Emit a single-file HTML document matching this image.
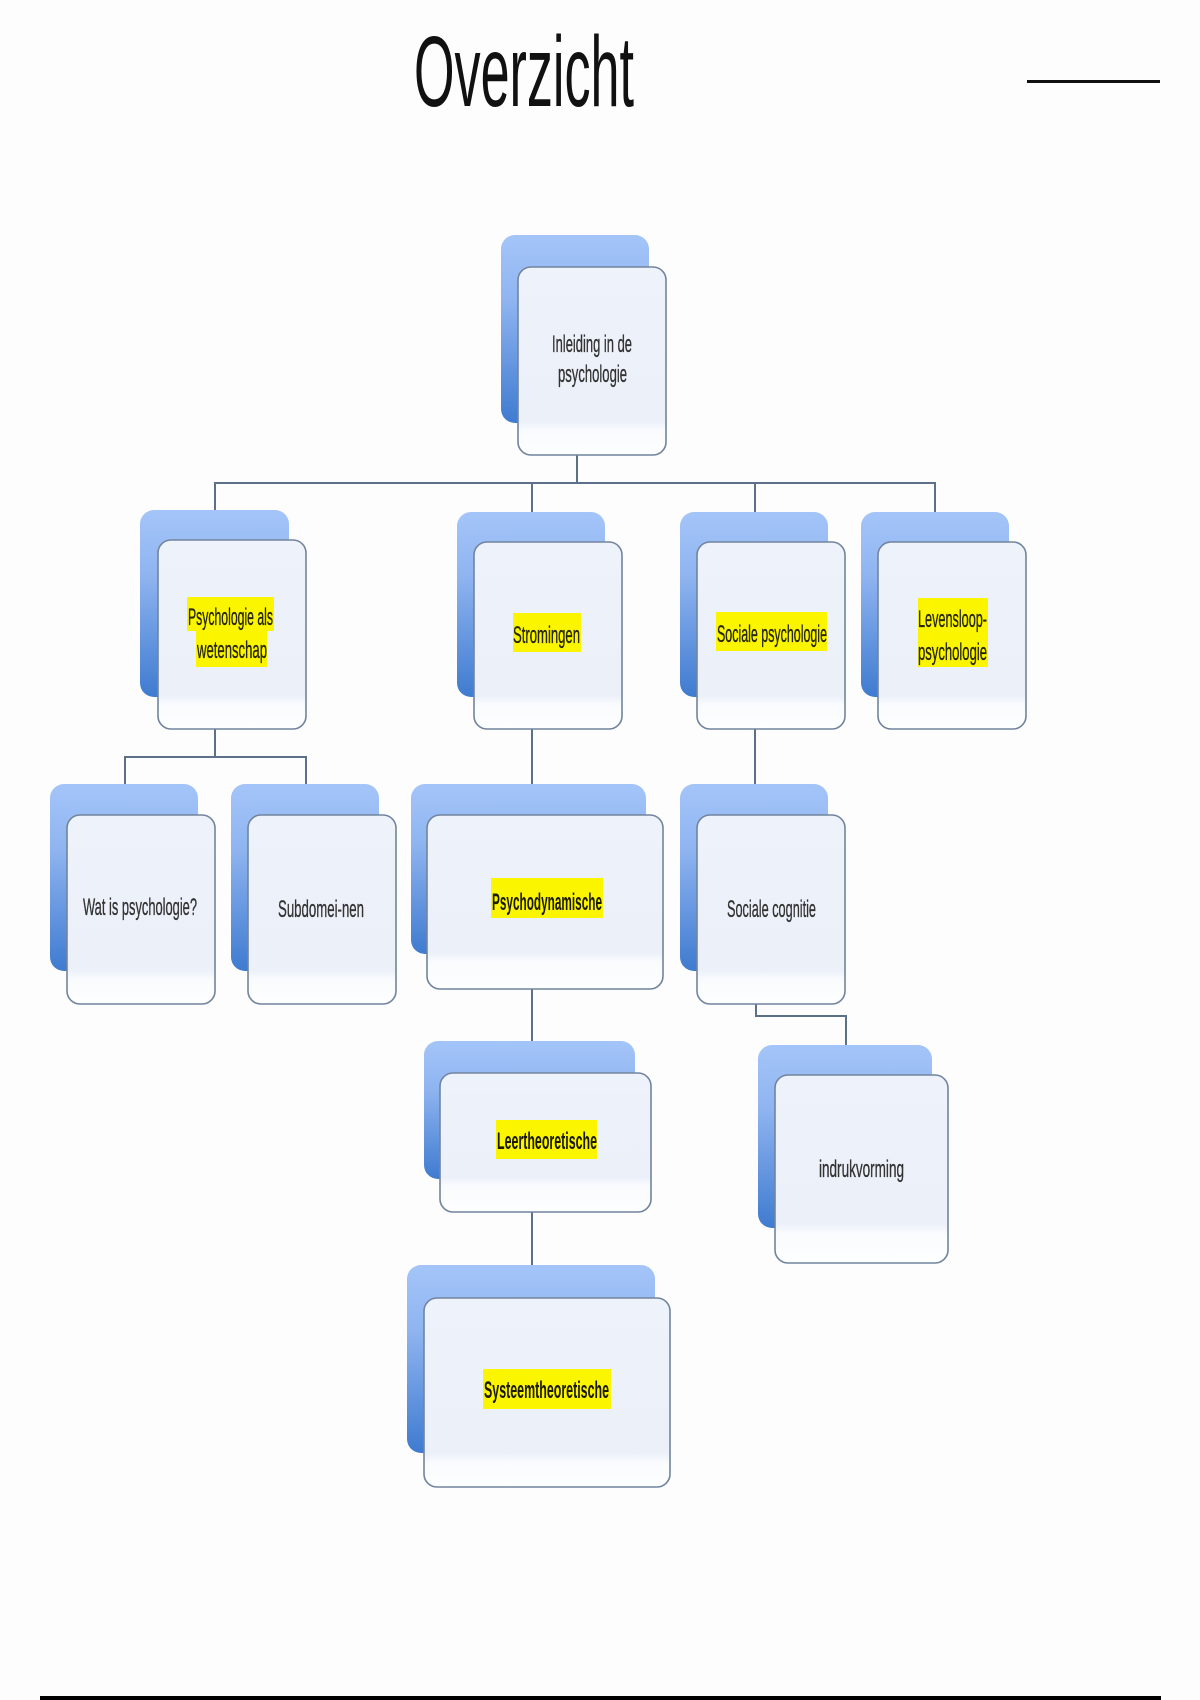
<!DOCTYPE html>
<html>
<head>
<meta charset="utf-8">
<style>
  html,body{margin:0;padding:0;background:#fdfdfd;}
  svg{display:block;}
  text{font-family:"Liberation Sans",sans-serif;}
</style>
</head>
<body>
<svg width="1200" height="1700" viewBox="0 0 1200 1700" xmlns="http://www.w3.org/2000/svg">
  <defs>
    <linearGradient id="gb" x1="0" y1="0" x2="0" y2="1">
      <stop offset="0" stop-color="#a4c5f9"/>
      <stop offset="0.35" stop-color="#8fb4f0"/>
      <stop offset="1" stop-color="#3f7bd0"/>
    </linearGradient>
    <linearGradient id="g83" x1="0" y1="0" x2="0" y2="1">
      <stop offset="0" stop-color="#eef2fa"/>
      <stop offset="0.82" stop-color="#ebf0f9"/>
      <stop offset="0.87" stop-color="#f9fbfe"/>
      <stop offset="1" stop-color="#fdfeff"/>
    </linearGradient>
    <linearGradient id="g80" x1="0" y1="0" x2="0" y2="1">
      <stop offset="0" stop-color="#eef2fa"/>
      <stop offset="0.79" stop-color="#ebf0f9"/>
      <stop offset="0.84" stop-color="#f9fbfe"/>
      <stop offset="1" stop-color="#fdfeff"/>
    </linearGradient>
    <linearGradient id="g76" x1="0" y1="0" x2="0" y2="1">
      <stop offset="0" stop-color="#eef2fa"/>
      <stop offset="0.75" stop-color="#ebf0f9"/>
      <stop offset="0.81" stop-color="#f9fbfe"/>
      <stop offset="1" stop-color="#fdfeff"/>
    </linearGradient>
  </defs>

  <rect x="0" y="0" width="1200" height="1700" fill="#fdfdfd"/>

  <!-- Title -->
  <text x="414" y="106" font-size="100" fill="#111" textLength="220" lengthAdjust="spacingAndGlyphs">Overzicht</text>
  <rect x="1027" y="80" width="133" height="3" fill="#111"/>
  <rect x="40" y="1696" width="1121" height="4" fill="#000"/>

  <!-- Connectors -->
  <g stroke="#5d7089" stroke-width="2" fill="none">
    <line x1="577" y1="440" x2="577" y2="483"/>
    <line x1="214" y1="483" x2="936" y2="483"/>
    <line x1="215" y1="483" x2="215" y2="512"/>
    <line x1="532" y1="483" x2="532" y2="514"/>
    <line x1="755" y1="483" x2="755" y2="514"/>
    <line x1="935" y1="483" x2="935" y2="514"/>
    <line x1="215" y1="715" x2="215" y2="757"/>
    <line x1="124" y1="757" x2="307" y2="757"/>
    <line x1="125" y1="757" x2="125" y2="786"/>
    <line x1="306" y1="757" x2="306" y2="786"/>
    <line x1="532" y1="715" x2="532" y2="786"/>
    <line x1="532" y1="975" x2="532" y2="1043"/>
    <line x1="532" y1="1198" x2="532" y2="1267"/>
    <line x1="755" y1="715" x2="755" y2="786"/>
    <polyline points="756,990 756,1016 846,1016 846,1047"/>
  </g>

  <!-- Root -->
  <rect x="501" y="235" width="148" height="188" rx="14" fill="url(#gb)"/>
  <rect x="518" y="267" width="148" height="188" rx="13" fill="url(#g83)" stroke="#72849d" stroke-width="1.6"/>

  <!-- Level 2 -->
  <rect x="140" y="510" width="149" height="187" rx="14" fill="url(#gb)"/>
  <rect x="158" y="540" width="148" height="189" rx="13" fill="url(#g83)" stroke="#72849d" stroke-width="1.6"/>

  <rect x="457" y="512" width="148" height="185" rx="14" fill="url(#gb)"/>
  <rect x="474" y="542" width="148" height="187" rx="13" fill="url(#g83)" stroke="#72849d" stroke-width="1.6"/>

  <rect x="680" y="512" width="148" height="185" rx="14" fill="url(#gb)"/>
  <rect x="697" y="542" width="148" height="187" rx="13" fill="url(#g83)" stroke="#72849d" stroke-width="1.6"/>

  <rect x="861" y="512" width="148" height="185" rx="14" fill="url(#gb)"/>
  <rect x="878" y="542" width="148" height="187" rx="13" fill="url(#g83)" stroke="#72849d" stroke-width="1.6"/>

  <!-- Level 3 -->
  <rect x="50" y="784" width="148" height="187" rx="14" fill="url(#gb)"/>
  <rect x="67" y="815" width="148" height="189" rx="13" fill="url(#g83)" stroke="#72849d" stroke-width="1.6"/>

  <rect x="231" y="784" width="148" height="187" rx="14" fill="url(#gb)"/>
  <rect x="248" y="815" width="148" height="189" rx="13" fill="url(#g83)" stroke="#72849d" stroke-width="1.6"/>

  <rect x="411" y="784" width="235" height="170" rx="14" fill="url(#gb)"/>
  <rect x="427" y="815" width="236" height="174" rx="13" fill="url(#g80)" stroke="#72849d" stroke-width="1.6"/>

  <rect x="680" y="784" width="148" height="187" rx="14" fill="url(#gb)"/>
  <rect x="697" y="815" width="148" height="189" rx="13" fill="url(#g83)" stroke="#72849d" stroke-width="1.6"/>

  <!-- Level 4 -->
  <rect x="424" y="1041" width="211" height="138" rx="14" fill="url(#gb)"/>
  <rect x="440" y="1073" width="211" height="139" rx="13" fill="url(#g76)" stroke="#72849d" stroke-width="1.6"/>

  <rect x="758" y="1045" width="174" height="183" rx="14" fill="url(#gb)"/>
  <rect x="775" y="1075" width="173" height="188" rx="13" fill="url(#g80)" stroke="#72849d" stroke-width="1.6"/>

  <!-- Level 5 -->
  <rect x="407" y="1265" width="248" height="188" rx="14" fill="url(#gb)"/>
  <rect x="424" y="1298" width="246" height="189" rx="13" fill="url(#g83)" stroke="#72849d" stroke-width="1.6"/>

  <!-- Highlights -->
  <g fill="#fbf500">
    <rect x="187" y="597" width="87" height="34"/>
    <rect x="196" y="630" width="71" height="37"/>
    <rect x="513" y="613" width="68" height="39"/>
    <rect x="716" y="612" width="111" height="39"/>
    <rect x="918" y="598" width="70" height="33"/>
    <rect x="918" y="630" width="70" height="37"/>
    <rect x="491" y="878" width="112" height="40"/>
    <rect x="496" y="1120" width="101" height="39"/>
    <rect x="483" y="1369" width="128" height="40"/>
  </g>

  <!-- Labels -->
  <g font-size="24" fill="#333" stroke="#333" stroke-width="0.35">
    <text x="552" y="352" textLength="80" lengthAdjust="spacingAndGlyphs">Inleiding in de</text>
    <text x="558" y="382" textLength="69" lengthAdjust="spacingAndGlyphs">psychologie</text>
    <text x="83" y="915" textLength="114" lengthAdjust="spacingAndGlyphs">Wat is psychologie?</text>
    <text x="278" y="917" textLength="86" lengthAdjust="spacingAndGlyphs">Subdomei-nen</text>
    <text x="727" y="917" textLength="89" lengthAdjust="spacingAndGlyphs">Sociale cognitie</text>
    <text x="819" y="1177" textLength="85" lengthAdjust="spacingAndGlyphs">indrukvorming</text>
  </g>
  <g font-size="24" fill="#262608" stroke="#262608" stroke-width="0.35">
    <text x="188" y="625" textLength="85" lengthAdjust="spacingAndGlyphs">Psychologie als</text>
    <text x="197" y="658" textLength="70" lengthAdjust="spacingAndGlyphs">wetenschap</text>
    <text x="513" y="643" textLength="67" lengthAdjust="spacingAndGlyphs">Stromingen</text>
    <text x="717" y="642" textLength="110" lengthAdjust="spacingAndGlyphs">Sociale psychologie</text>
    <text x="918" y="627" textLength="69" lengthAdjust="spacingAndGlyphs">Levensloop-</text>
    <text x="918" y="660" textLength="69" lengthAdjust="spacingAndGlyphs">psychologie</text>
  </g>
  <g font-size="24" font-weight="bold" fill="#1a1a00">
    <text x="492" y="910" textLength="110" lengthAdjust="spacingAndGlyphs">Psychodynamische</text>
    <text x="497" y="1149" textLength="100" lengthAdjust="spacingAndGlyphs">Leertheoretische</text>
    <text x="484" y="1398" textLength="125" lengthAdjust="spacingAndGlyphs">Systeemtheoretische</text>
  </g>
</svg>
</body>
</html>
